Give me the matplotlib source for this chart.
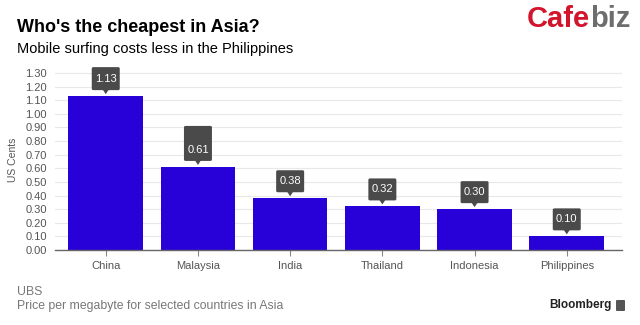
import matplotlib.pyplot as plt
from matplotlib.patches import FancyBboxPatch, Polygon

# Data
countries = ["China", "Malaysia", "India", "Thailand", "Indonesia", "Philippines"]
cents = [1.13, 0.61, 0.38, 0.32, 0.30, 0.10]
value_labels = ["1.13", "0.61", "0.38", "0.32", "0.30", "0.10"]
box_heights = [23, 35, 22, 22, 22, 22]  # callout box height in px
y_ticks = [0.0, 0.1, 0.2, 0.3, 0.4, 0.5, 0.6, 0.7, 0.8, 0.9, 1.0, 1.1, 1.2, 1.3]

BAR_COLOR = "#2800d8"
BOX_COLOR = "#4a4a4a"
GRID_COLOR = "#e8e8e8"
TICK_COLOR = "#555555"
FONT = "Liberation Sans"

plt.rcParams["font.family"] = [FONT, "DejaVu Sans"]

fig = plt.figure(figsize=(6.4, 3.25), dpi=100)
ax = fig.add_axes([0.086, 0.2308, 0.886, 0.553])

x = list(range(len(countries)))
ax.bar(x, cents, width=0.81, color=BAR_COLOR, zorder=2)

ax.set_xlim(-0.55, 5.6)
ax.set_ylim(0, 1.32)
ax.set_yticks(y_ticks)
ax.set_yticklabels([f"{t:.2f}" for t in y_ticks])
ax.set_xticks(x)
ax.set_xticklabels(countries)
ax.grid(axis="y", color=GRID_COLOR, linewidth=0.8, zorder=0)
ax.set_axisbelow(True)
for side in ["left", "right", "top"]:
    ax.spines[side].set_visible(False)
ax.spines["bottom"].set_color("#666666")
ax.spines["bottom"].set_linewidth(1.0)
ax.tick_params(axis="y", length=0, labelsize=8, labelcolor=TICK_COLOR, pad=6)
ax.tick_params(axis="x", length=4, color="#888888", labelsize=8,
               labelcolor=TICK_COLOR, pad=4)
ax.set_ylabel("US Cents", fontsize=7.5, color=TICK_COLOR, labelpad=5)

# Callout boxes above each bar, drawn in pixel coordinates
for xi, val, lab, bh in zip(x, cents, value_labels, box_heights):
    px, py = ax.transData.transform((xi, val))
    bottom = py + 6
    w = 28
    box = FancyBboxPatch((px - w / 2, bottom), w, bh,
                         boxstyle="round,pad=0,rounding_size=1.5",
                         transform=None, facecolor=BOX_COLOR,
                         edgecolor="none", clip_on=False, zorder=5)
    fig.patches.append(box)
    tri = Polygon([(px - 3, bottom + 0.5), (px + 3, bottom + 0.5), (px, bottom - 4)],
                  closed=True, transform=None, facecolor=BOX_COLOR,
                  edgecolor="none", clip_on=False, zorder=5)
    fig.patches.append(tri)
    fig.text(px / 640, (bottom + 11) / 325, lab, color="white",
             fontsize=8, ha="center", va="center", zorder=6)

# Titles
fig.text(17 / 640, 1 - 27 / 325, "Who's the cheapest in Asia?",
         fontsize=13, fontweight="bold", ha="left", va="center")
fig.text(17 / 640, 1 - 49 / 325, "Mobile surfing costs less in the Philippines",
         fontsize=10.5, ha="left", va="center")

# Footer
fig.text(17 / 640, 1 - 292 / 325, "UBS", fontsize=8.8, color="#777777",
         ha="left", va="center")
fig.text(17 / 640, 1 - 306 / 325, "Price per megabyte for selected countries in Asia",
         fontsize=8.8, color="#777777", ha="left", va="center")
fig.text(612 / 640, 1 - 305 / 325, "Bloomberg", fontsize=8.5, fontweight="bold",
         color="#222222", ha="right", va="center")
fig.patches.append(FancyBboxPatch((616, 325 - 311), 9, 11,
                                  boxstyle="round,pad=0,rounding_size=1",
                                  transform=None, facecolor="#555555",
                                  edgecolor="none"))

# Cafebiz logo
fig.text(590 / 640, 1 - 27 / 325, "Cafe", fontsize=21, fontweight="bold",
         color="#d2142c", ha="right", va="baseline")
fig.text(590 / 640, 1 - 27 / 325, "biz", fontsize=21, fontweight="bold",
         color="#6d6d6d", ha="left", va="baseline")

fig.savefig("out.png", dpi=100)
